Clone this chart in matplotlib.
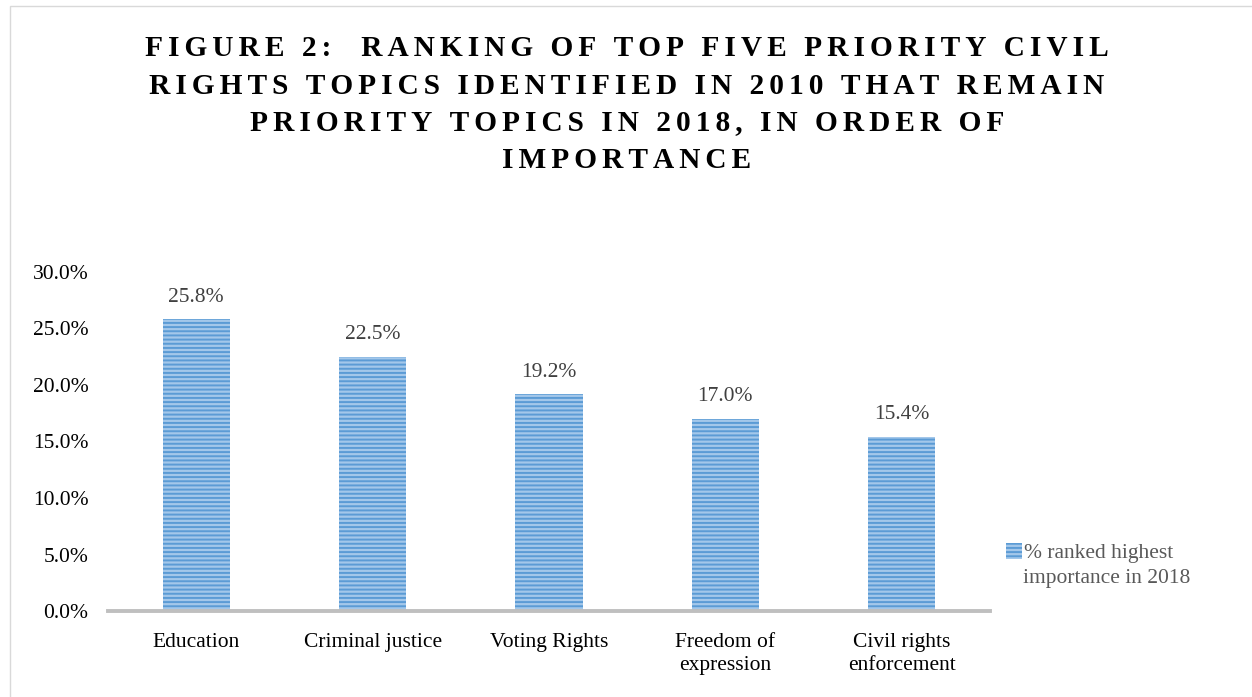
import matplotlib.pyplot as plt
from matplotlib.patches import Rectangle

categories = ["Education", "Criminal justice", "Voting Rights",
              "Freedom of\nexpression", "Civil rights\nenforcement"]
values = [25.8, 22.5, 19.2, 17.0, 15.4]
series_name = ["% ranked highest", "importance in 2018"]
title_lines = ["FIGURE 2:  RANKING OF TOP FIVE PRIORITY CIVIL",
               "RIGHTS TOPICS IDENTIFIED IN 2010 THAT REMAIN",
               "PRIORITY TOPICS IN 2018, IN ORDER OF",
               "IMPORTANCE"]
yticks = [0, 5, 10, 15, 20, 25, 30]

plt.rcParams['font.family'] = ['Liberation Serif', 'DejaVu Serif']
plt.rcParams['hatch.linewidth'] = 1.4

fig = plt.figure(figsize=(12.52, 6.97), dpi=100)
ax = fig.add_axes([108 / 1252, 1 - 611 / 697, 882 / 1252, 339 / 697])

# faint chart border
fig.patches.append(Rectangle((10 / 1252, -0.1), 1.2, 0.1 + 691 / 697,
                             transform=fig.transFigure, fill=False,
                             edgecolor='#D9D9D9', linewidth=1))

x = list(range(len(categories)))
bars = ax.bar(x, values, width=0.38, color='#A3C7EA', edgecolor='#5B9BD5',
              linewidth=0, hatch='----', label=series_name[0])

for b, v in zip(bars, values):
    ax.annotate(f"{v:.1f}%", (b.get_x() + b.get_width() / 2, v),
                xytext=(0, 9), textcoords='offset points',
                ha='center', va='bottom', fontsize=15.5, color='#404040')

ax.set_xlim(-0.5, len(categories) - 0.5)
ax.set_ylim(0, 30)
ax.set_yticks(yticks)
ax.set_yticklabels([f"{t:.1f}%" for t in yticks])
ax.set_xticks(x)
ax.set_xticklabels(categories, linespacing=1.3)
ax.tick_params(axis='y', length=0, pad=14, labelsize=15.5, colors='#000000')
ax.tick_params(axis='x', length=0, pad=16, labelsize=15.5, colors='#000000')
for s in ['top', 'right', 'left']:
    ax.spines[s].set_visible(False)
ax.spines['bottom'].set_color('#BFBFBF')
ax.spines['bottom'].set_linewidth(2.8)

# spaced-out bold title
sp = '\u200a\u200a'
ys = [48, 86, 123, 160]
for line, yy in zip(title_lines, ys):
    txt = sp.join(line)
    fig.text(627 / 1252, 1 - yy / 697, txt, ha='center', va='center',
             fontsize=21.2, fontweight='bold', color='#000000')

# legend: marker beside the first line, second line wraps below
leg = ax.legend(loc='center left', bbox_to_anchor=(1006 / 1252, 1 - 553 / 697),
                bbox_transform=fig.transFigure, frameon=False, fontsize=15.5,
                handlelength=0.75, handleheight=0.75, handletextpad=0.1,
                labelcolor='#595959', borderpad=0, borderaxespad=0)
fig.text(1023 / 1252, 1 - 579 / 697, series_name[1], ha='left', va='center',
         fontsize=15.5, color='#595959')

fig.savefig('out.png', dpi=100)
